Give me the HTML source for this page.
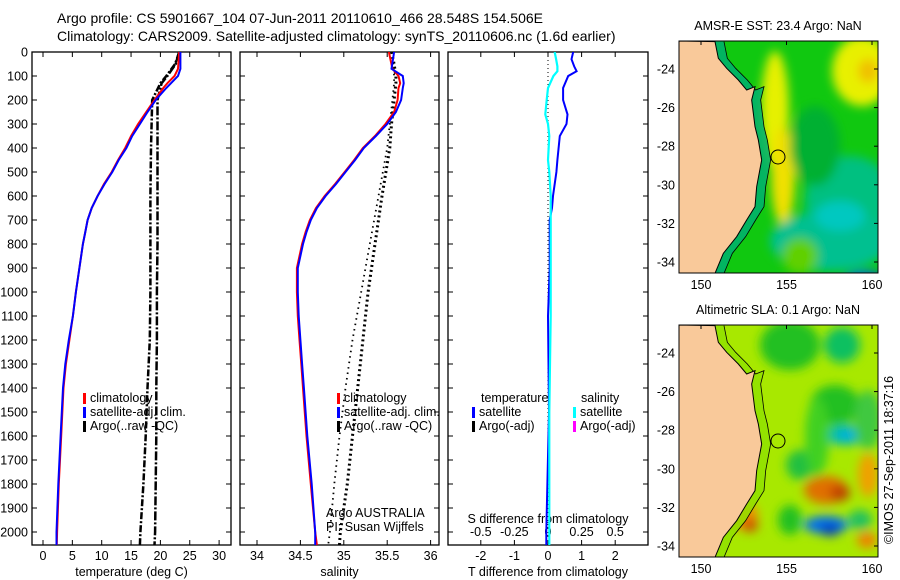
<!DOCTYPE html>
<html><head><meta charset="utf-8">
<style>
html,body{margin:0;padding:0;background:#fff;}
svg{display:block;font-family:"Liberation Sans",sans-serif;}
text{fill:#000;}
</style></head>
<body>
<svg id="fig" width="900" height="580" viewBox="0 0 900 580" xmlns="http://www.w3.org/2000/svg">
<defs>
<filter id="blur1" x="-20%" y="-20%" width="140%" height="140%"><feGaussianBlur stdDeviation="5"/></filter>
<clipPath id="clipTop"><rect x="679" y="41" width="199" height="232"/></clipPath>
<clipPath id="clipBot"><rect x="679" y="325" width="199" height="232"/></clipPath>
<clipPath id="clipP1"><rect x="32" y="52" width="199" height="493"/></clipPath>
<clipPath id="clipP2"><rect x="240" y="52" width="199" height="493"/></clipPath>
<clipPath id="clipP3"><rect x="448" y="52" width="200" height="493"/></clipPath>
</defs>
<text x="57" y="23" font-size="14">Argo profile: CS 5901667_104 07-Jun-2011 20110610_466 28.548S 154.506E</text>
<text x="57" y="41" font-size="14">Climatology: CARS2009. Satellite-adjusted climatology: synTS_20110606.nc (1.6d earlier)</text>
<text transform="translate(893,460) rotate(-90)" text-anchor="middle" font-size="12.5">©IMOS 27-Sep-2011 18:37:16</text>
<g id="panels"></g>
<g id="maps"></g>
</svg>
<script>
// ---------- data ----------
const depthTicks = [0,100,200,300,400,500,600,700,800,900,1000,1100,1200,1300,1400,1500,1600,1700,1800,1900,2000];
const tempTicks = [0,5,10,15,20,25,30];
const salTicks = [34,34.5,35,35.5,36];
const tdiffTicks = [-2,-1,0,1,2];
const sdiffTicks = [-0.5,-0.25,0,0.25,0.5];

const climDepth = [0,70,100,130,150,200,250,300,350,400,450,500,550,600,650,700,750,800,900,1000,1100,1200,1300,1400,1600,1800,2000,2054];
const tempClim  = [23.2,23.0,22.4,21.2,20.5,19.0,17.6,16.2,15.0,14.0,12.8,11.7,10.4,9.3,8.3,7.6,7.2,6.8,6.2,5.6,5.1,4.5,3.9,3.5,3.1,2.7,2.4,2.35];
const tempSat   = [23.4,23.4,23.0,21.8,21.0,19.2,17.8,16.5,15.2,14.2,12.9,11.8,10.5,9.3,8.3,7.6,7.2,6.8,6.2,5.6,5.1,4.4,3.8,3.4,3.0,2.6,2.3,2.3];
const salClim   = [35.52,35.56,35.63,35.65,35.63,35.62,35.58,35.48,35.36,35.22,35.12,35.01,34.90,34.78,34.68,34.61,34.56,34.52,34.46,34.46,34.47,34.49,34.51,34.53,34.57,34.62,34.67,34.69];
const salSat    = [35.58,35.55,35.68,35.69,35.68,35.66,35.60,35.50,35.37,35.23,35.13,35.02,34.91,34.79,34.69,34.62,34.57,34.53,34.47,34.47,34.48,34.50,34.52,34.54,34.58,34.63,34.67,34.67];

const argoDepth = [0,50,100,130,200,300,400,600,800,1000,1200,1400,1600,1800,2000,2054];
const argoTempA = [23.2,22.5,21.0,20.0,18.6,18.5,18.4,18.3,18.3,18.3,18.2,17.8,17.5,17.1,16.6,16.5];
const argoTempB = [23.2,22.6,21.2,20.2,19.5,19.5,19.5,19.5,19.5,19.4,19.4,19.3,19.3,19.2,19.1,19.0];
const argoSalA  = [35.55,35.58,35.60,35.60,35.58,35.55,35.53,35.44,35.36,35.28,35.22,35.16,35.10,35.04,34.96,34.95];
const argoSalB  = [35.55,35.57,35.58,35.58,35.56,35.53,35.50,35.40,35.30,35.20,35.10,35.02,34.95,34.89,34.84,34.82];

const diffDepth = [0,30,60,80,100,150,200,260,300,350,450,500,600,650,700,900,1100,1500,2000,2054];
const tDiffSat  = [0.75,0.70,0.78,0.85,0.60,0.45,0.45,0.58,0.55,0.35,0.28,0.25,0.15,0.12,0.05,0.05,0.0,0.03,-0.05,-0.05];
const sDiffSat  = [0.05,0.06,0.07,0.07,0.04,0.0,-0.01,-0.02,0.0,0.01,0.0,0.01,0.02,0.02,0.02,0.02,0.02,0.01,0.01,0.01];

const latTicks = [-24,-26,-28,-30,-32,-34];
const lonTicks = [150,155,160];

// ---------- helpers ----------
const NS = "http://www.w3.org/2000/svg";
function mk(tag, attrs, parent){const e=document.createElementNS(NS,tag);for(const k in attrs)e.setAttribute(k,attrs[k]);parent.appendChild(e);return e;}
const yD = d => 52 + d*0.24;
const P = document.getElementById('panels');

function panel(x0, w, xs, ticks, tickFmt, xlabel, name, yLabels){
  const g = mk('g',{},P);
  
  
  const fr = mk('rect',{x:x0,y:52,width:w,height:493,fill:'none',stroke:'#000','stroke-width':1.3},g);
  
  
  ticks.forEach(t=>{
    const x = xs(t);
    mk('line',{x1:x,x2:x,y1:52,y2:57,stroke:'#000'},g);
    mk('line',{x1:x,x2:x,y1:545,y2:540,stroke:'#000'},g);
    if(tickFmt){
      const tx = mk('text',{x:x,y:560,'text-anchor':'middle','font-size':12.5},g);
      tx.textContent = tickFmt(t);
      
      
    }
  });
  depthTicks.forEach(d=>{
    const y=yD(d);
    mk('line',{x1:x0,x2:x0+5,y1:y,y2:y,stroke:'#000'},g);
    mk('line',{x1:x0+w,x2:x0+w-5,y1:y,y2:y,stroke:'#000'},g);
    if(yLabels){
      const tx=mk('text',{x:x0-4,y:y+4.5,'text-anchor':'end','font-size':12.5},g);
      tx.textContent=d;
      
      
    }
  });
  if(xlabel){
    const xl=mk('text',{x:x0+w/2,y:576,'text-anchor':'middle','font-size':12.5},g);
    xl.textContent=xlabel;
    
    
  }
  return g;
}
function line(g, xs, vals, depths, color, width, dash, clip, name){
  const pts = vals.map((v,i)=>xs(v).toFixed(1)+','+yD(depths[i]).toFixed(1)).join(' ');
  const a={points:pts,fill:'none',stroke:color,'stroke-width':width,'clip-path':'url(#'+clip+')'};
  if(dash) a['stroke-dasharray']=dash;
  const pl = mk('polyline',a,g);
  
  
}
function legend(g, x, y, items){
  items.forEach((it,i)=>{
    const yy=y+i*14;
    mk('rect',{x:x,y:yy-9,width:3,height:11,fill:it[1]},g);
    const t=mk('text',{x:x+7,y:yy,'font-size':12.5},g);
    t.textContent=it[0];
    
    
  });
}

// Panel 1 temperature
const xT = t => 43 + t*5.87;
const g1 = panel(32,199,xT,tempTicks,t=>t,'temperature (deg C)','temperature-panel',true);
line(g1,xT,argoTempA,argoDepth,'#000',2.5,'7 2 2 2','clipP1','argo-temp-a');
line(g1,xT,argoTempB,argoDepth,'#000',2.5,'9 2 2 2','clipP1','argo-temp-b');
line(g1,xT,tempClim,climDepth,'#f00',2,null,'clipP1','temp-climatology');
line(g1,xT,tempSat,climDepth,'#00f',2,null,'clipP1','temp-satellite');
legend(g1,83,402,[['climatology','#f00'],['satellite-adj. clim.','#00f'],['Argo(..raw -QC)','#000']]);

// Panel 2 salinity
const xS = s => 257 + (s-34)*86.8;
const g2 = panel(240,199,xS,salTicks,s=>s,'salinity','salinity-panel',false);
line(g2,xS,argoSalA,argoDepth,'#000',3,'2 3','clipP2','argo-sal-a');
line(g2,xS,argoSalB,argoDepth,'#000',1.8,'1.5 4','clipP2','argo-sal-b');
line(g2,xS,salClim,climDepth,'#f00',2,null,'clipP2','sal-climatology');
line(g2,xS,salSat,climDepth,'#00f',2,null,'clipP2','sal-satellite');
legend(g2,337,402,[['climatology','#f00'],['satellite-adj. clim.','#00f'],['Argo(..raw -QC)','#000']]);
const a1=mk('text',{x:326,y:517,'font-size':12.5},g2);a1.textContent='Argo AUSTRALIA';

const a2=mk('text',{x:326,y:531,'font-size':12.5},g2);a2.textContent='PI: Susan Wijffels';


// Panel 3 differences
const xTd = t => 548 + t*33.6;
const xSd = s => 548 + s*134.4;
const g3 = panel(448,200,xTd,tdiffTicks,t=>t,'T difference from climatology','difference-panel',false);
sdiffTicks.forEach(s=>{
  const t=mk('text',{x:xSd(s),y:536,'text-anchor':'middle','font-size':12.5},g3);
  t.textContent=s;
  
  
});
const st=mk('text',{x:548,y:523,'text-anchor':'middle','font-size':12.5},g3);st.textContent='S difference from climatology';

mk('line',{x1:548,x2:548,y1:52,y2:545,stroke:'#000','stroke-dasharray':'1 3'},g3);
line(g3,xTd,tDiffSat,diffDepth,'#00f',2,null,'clipP3','t-diff-satellite');
line(g3,xSd,sDiffSat,diffDepth,'#0ff',2.2,null,'clipP3','s-diff-satellite');
const lt=mk('text',{x:481,y:402,'font-size':12.5},g3);lt.textContent='temperature';
const ls=mk('text',{x:581,y:402,'font-size':12.5},g3);ls.textContent='salinity';
legend(g3,472,416,[['satellite','#00f'],['Argo(-adj)','#000']]);
legend(g3,573,416,[['satellite','#0ff'],['Argo(-adj)','#f0f']]);

// ---------- maps ----------
const M = document.getElementById('maps');
const coast = [[225,125],[235,175],[260,205],[295,240],[320,270],[345,260],[335,300],[345,380],[355,420],[365,480],[350,560],[345,620],[320,660],[290,710],[250,760],[225,820]];
function drawMap(y0, title, bg, blobs, shelfFill, name){
  const g = mk('g',{},M);
  
  
  const clip = y0===41?'clipTop':'clipBot';
  const inner = mk('g',{'clip-path':'url(#'+clip+')'},g);
  mk('rect',{x:679,y:y0,width:199,height:232,fill:bg},inner);
  const bl = mk('g',{filter:'url(#blur1)'},inner);
  blobs.forEach(b=>mk('ellipse',{cx:b[0],cy:b[1]+y0,rx:b[2],ry:b[3],fill:b[4]},bl));
  const dy = y0-41;
  const pts = coast.map(p=>[640+p[0]/3, p[1]/3+dy]);
  const shelf = pts.map(p=>(p[0]+9)+','+p[1]).join(' ');
  mk('polygon',{points:'679,'+(y0)+' '+pts.map(p=>p[0]+','+p[1]).join(' ')+' '+[...pts].reverse().map(p=>(p[0]+9)+','+p[1]).join(' '),fill:shelfFill,opacity:0.85},inner);
  mk('polyline',{points:shelf,fill:'none',stroke:'#000','stroke-width':0.8},inner);
  const land = mk('polygon',{points:'679,'+y0+' '+pts.map(p=>p[0]+','+p[1]).join(' ')+' 679,'+(y0+232),fill:'#f9c99a',stroke:'#000','stroke-width':1},inner);
  
  
  const c = mk('circle',{cx:778,cy:157+dy,r:7,fill:'none',stroke:'#000','stroke-width':1},g);
  
  
  mk('rect',{x:679,y:y0,width:199,height:232,fill:'none',stroke:'#000','stroke-width':1},g);
  const yL = lat => y0 + 28 + (-24-lat)*19.3;
  const xL = lon => 701 + (lon-150)*17.1;
  latTicks.forEach(l=>{
    const y=yL(l);
    mk('line',{x1:874,x2:878,y1:y,y2:y,stroke:'#000'},g);
    const t=mk('text',{x:675,y:y+4.5,'text-anchor':'end','font-size':12.5},g);t.textContent=l;
    
  });
  lonTicks.forEach(l=>{
    const x=xL(l);
    mk('line',{x1:x,x2:x,y1:y0,y2:y0+4,stroke:'#000'},g);
    const t=mk('text',{x:x,y:y0+248,'text-anchor':'middle','font-size':12.5},g);t.textContent=l;
    
  });
  const tt=mk('text',{x:778,y:y0-11,'text-anchor':'middle','font-size':12.5},g);tt.textContent=title;
  
}
drawMap(41,'AMSR-E SST: 23.4  Argo: NaN','#10c810',[
  [775,70,14,60,'#e6f000'],[783,135,12,50,'#f0e000'],[862,30,30,35,'#e8f000'],[868,30,10,12,'#f0c000'],
  [850,160,45,45,'#00c080'],[830,200,60,30,'#00c090'],[840,175,25,15,'#00c8c0'],
  [820,258,35,14,'#000090'],[810,255,15,10,'#0030c0'],[865,245,25,15,'#0060e0'],[715,250,10,20,'#1070e0'],
  [815,105,25,40,'#00b030'],[800,215,18,18,'#60d000']
],'#00b070','sst-map');
drawMap(325,'Altimetric SLA: 0.1  Argo: NaN','#a8e800',[
  [790,20,30,25,'#20c020'],[842,20,18,18,'#10c060'],[835,80,25,20,'#20c020'],[845,110,22,10,'#00c0a0'],[847,110,10,6,'#00b0e0'],
  [800,140,14,15,'#20c040'],[817,112,12,40,'#40d020'],[868,95,14,30,'#40c840'],
  [826,165,22,14,'#e07000'],[840,168,10,8,'#c04000'],[868,150,10,22,'#f0a000'],[740,190,18,14,'#f09000'],[750,200,8,7,'#d05000'],
  [826,200,22,9,'#0070f0'],[830,205,10,6,'#0040c0'],[867,215,10,8,'#f08000'],[790,195,12,15,'#20c020'],[860,195,12,10,'#20c060']
],'#90e000','sla-map');
</script>
</body></html>
